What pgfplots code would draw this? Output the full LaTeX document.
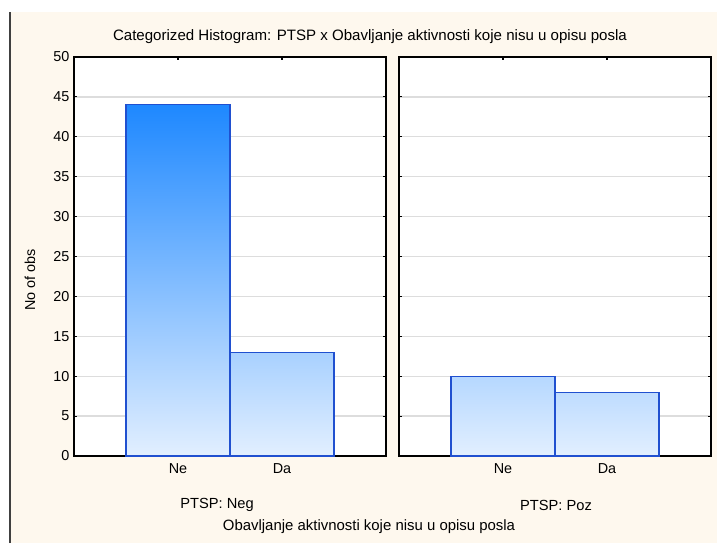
\documentclass[border=0pt]{standalone}
\usepackage{fontspec}
\setmainfont{Liberation Sans}
\usepackage{pgfplots}
\pgfplotsset{compat=1.18}
\definecolor{cream}{HTML}{FEF8EE}
\definecolor{topb}{HTML}{1E88FF}
\definecolor{botb}{HTML}{E2EFFF}
\definecolor{edgeb}{HTML}{2050D0}
\definecolor{gridc}{HTML}{DDDDDD}
\pgfplotsset{
  panel/.style={
    scale only axis,
    width=234pt, height=299.25pt,
    anchor=south west,
    xmin=-1, xmax=2, ymin=0, ymax=50,
    xtick={0,1}, xticklabels={Ne,Da},
    ytick={0,5,...,50},
    ymajorgrids,
    grid style={gridc, line width=1pt},
    tick align=inside,
    major tick length=2.5pt,
    tick style={black, line width=0.8pt},
    axis line style={black, line width=0.9pt},
    axis background/.style={fill=white},
    /pgf/number format/assume math mode=true,
    tick label style={font=\fontsize{10.8}{12}\selectfont},
    xticklabel style={yshift=-2pt},
  },
  hbar/.style={ybar, bar width=1, bar shift=0pt, draw=edgeb, line width=0.9pt},
}
\begin{document}
\begin{tikzpicture}
\fill[white] (0,0) rectangle (537.75pt,407.25pt);
\fill[cream] (8.25pt,0) rectangle (537.75pt,398.25pt);
\draw[black!75, line width=1.2pt] (7.5pt,0) -- (7.5pt,398.25pt);
\begin{axis}[panel, at={(55.5pt,65.25pt)}]
  \addplot[hbar, top color=topb, bottom color=botb] coordinates {(0,44)};
  \addplot[hbar, top color=topb!29.5!botb, bottom color=botb] coordinates {(1,13)};
\end{axis}
\begin{axis}[panel, at={(299.25pt,65.25pt)}, yticklabels={}]
  \addplot[hbar, top color=topb!22.7!botb, bottom color=botb] coordinates {(0,10)};
  \addplot[hbar, top color=topb!18.2!botb, bottom color=botb] coordinates {(1,8)};
\end{axis}
\node[font=\fontsize{11.3}{13}\selectfont] at (277.5pt,379.5pt) {Categorized Histogram: PTSP x Obavljanje aktivnosti koje nisu u opisu posla};
\node[font=\fontsize{10.8}{12}\selectfont, rotate=90] at (22.5pt,197.25pt) {No of obs};
\node[font=\fontsize{11}{12}\selectfont] at (162.75pt,28.5pt) {PTSP: Neg};
\node[font=\fontsize{11}{12}\selectfont] at (417pt,28.5pt) {PTSP: Poz};
\node[font=\fontsize{11.2}{13}\selectfont] at (276.75pt,12pt) {Obavljanje aktivnosti koje nisu u opisu posla};
\end{tikzpicture}
\end{document}
